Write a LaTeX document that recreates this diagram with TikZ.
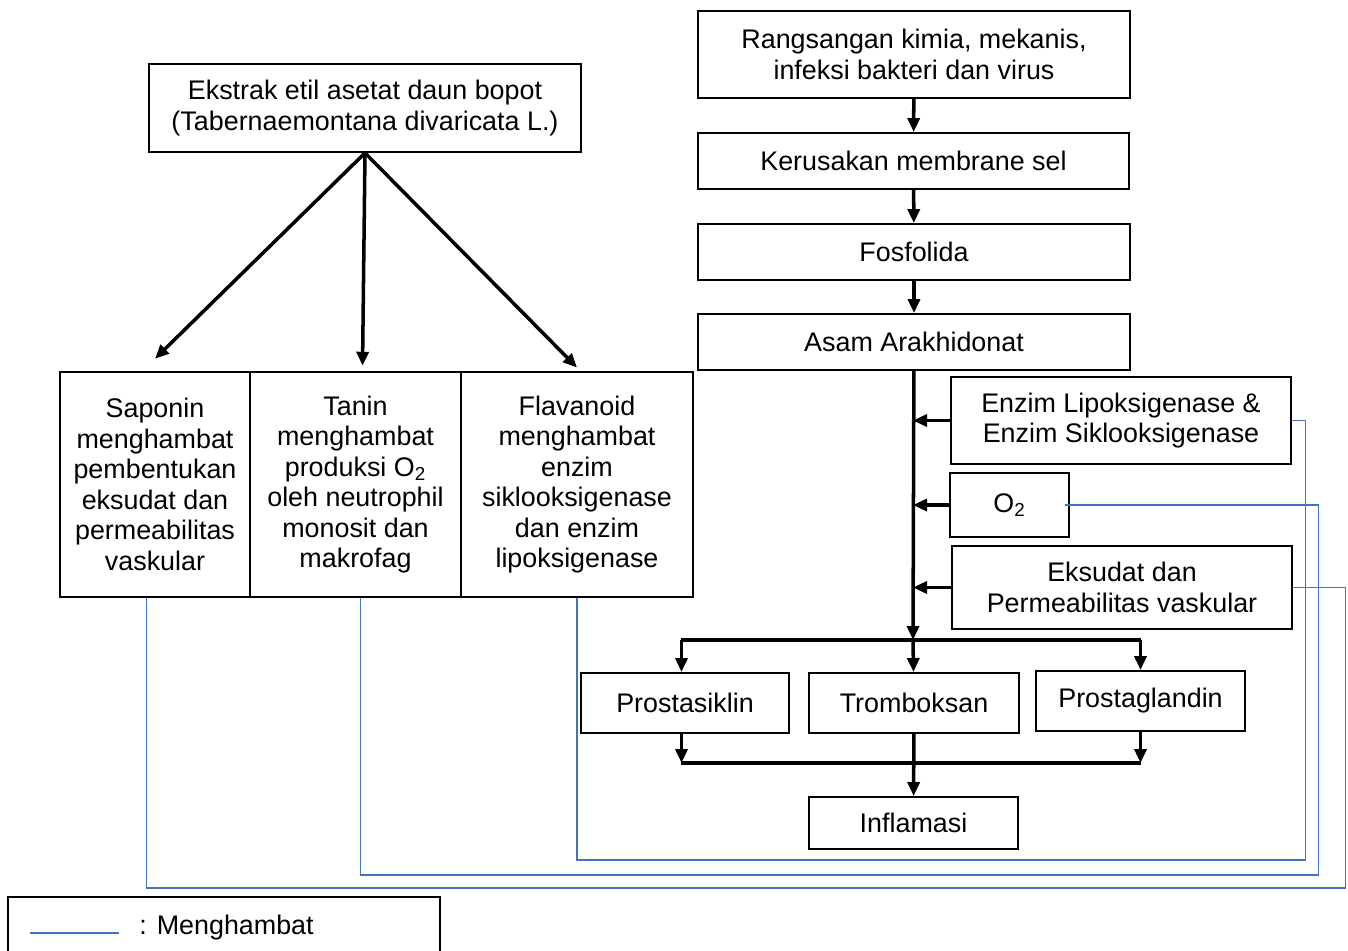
\documentclass[tikz,border=0pt]{standalone}
\usepackage{fontspec}
\setmainfont{Liberation Sans}
\usetikzlibrary{arrows.meta}

\definecolor{hambat}{RGB}{68,114,196}

\tikzstyle{box} = [rectangle, draw=black, line width=1.1pt, align=center, inner sep=0pt, font=\fontsize{15.3}{17.4}\selectfont]
\tikzstyle{arrow} = [line width=2pt,->,>={Triangle[length=2.8mm,width=2.4mm]}]
\tikzstyle{bar} = [line width=2pt]
\tikzstyle{inhib} = [draw=hambat, line width=0.6pt]

\begin{document}
\begin{tikzpicture}[x=0.02cm, y=-0.02cm]
\useasboundingbox (0,0) rectangle (1348,950);

% ekstrak dan senyawa aktif
\node (ekstrak) [box, minimum width=8.64cm, minimum height=1.76cm] at (365,108) {Ekstrak etil asetat daun bopot\\(Tabernaemontana divaricata L.)};
\node (saponin) [box, minimum width=3.8cm, minimum height=4.5cm] at (155,484.5) {Saponin\\menghambat\\pembentukan\\eksudat dan\\permeabilitas\\vaskular};
\node (tanin) [box, minimum width=4.22cm, minimum height=4.5cm] at (355.5,484.5) {Tanin\\menghambat\\produksi O\textsubscript{2}\\oleh neutrophil\\monosit dan\\makrofag};
\node (flav) [box, minimum width=4.64cm, minimum height=4.5cm] at (577,484.5) {Flavanoid\\menghambat\\enzim\\siklooksigenase\\dan enzim\\lipoksigenase};

% jalur inflamasi
\node (rang) [box, minimum width=8.64cm, minimum height=1.74cm] at (914,54.5) {Rangsangan kimia, mekanis,\\infeksi bakteri dan virus};
\node (kerus) [box, minimum width=8.62cm, minimum height=1.12cm] at (913.5,161) {Kerusakan membrane sel};
\node (fosfo) [box, minimum width=8.64cm, minimum height=1.12cm] at (914,252) {Fosfolida};
\node (asam) [box, minimum width=8.64cm, minimum height=1.12cm] at (914,342) {Asam Arakhidonat};
\node (enzim) [box, minimum width=6.8cm, minimum height=1.74cm] at (1121,420.5) {Enzim Lipoksigenase \&\\Enzim Siklooksigenase};
\node (oksigen) [box, minimum width=2.38cm, minimum height=1.28cm] at (1009.5,505) {O\textsubscript{2}};
\node (eksudat) [box, minimum width=6.8cm, minimum height=1.66cm] at (1122,587.5) {Eksudat dan\\Permeabilitas vaskular};
\node (prosta) [box, minimum width=4.16cm, minimum height=1.2cm] at (685,703) {Prostasiklin};
\node (trom) [box, minimum width=4.2cm, minimum height=1.2cm] at (914,703) {Tromboksan};
\node (prostag) [box, minimum width=4.18cm, minimum height=1.2cm] at (1140.5,701) {Prostaglandin};
\node (inflam) [box, minimum width=4.18cm, minimum height=1.04cm] at (913.5,823) {Inflamasi};

\coordinate (split) at (913,640);
\coordinate (join) at (913,763);

\draw [arrow] (ekstrak.south) -- ([yshift=7pt]saponin.north);
\draw [arrow] (ekstrak.south) -- ([xshift=4pt,yshift=3pt]tanin.north);
\draw [arrow] (ekstrak.south) -- ([yshift=2pt]flav.north);

\draw [arrow] (rang) -- (kerus);
\draw [arrow] (kerus) -- (fosfo);
\draw [arrow] (fosfo) -- (asam);
\draw [arrow] (asam) -- (split);
\draw [arrow] (enzim.west) -- (enzim.west -| split);
\draw [arrow] (oksigen.west) -- (oksigen.west -| split);
\draw [arrow] (eksudat.west) -- (eksudat.west -| split);

\draw [bar] ([xshift=-2pt]split -| prosta) -- (split -| prostag);
\draw [arrow] ([xshift=-2pt]split -| prosta) -- ([xshift=-2pt]prosta.north);
\draw [arrow] (split) -- (trom);
\draw [arrow] (split -| prostag) -- (prostag);

\draw [arrow] ([xshift=-2pt]prosta.south) -- ([xshift=-2pt]join -| prosta);
\draw [arrow] (prostag.south) -- (join -| prostag);
\draw [bar] ([xshift=-2pt]join -| prosta) -- (join -| prostag);
\draw [arrow] (trom) -- (inflam);

% garis menghambat
\draw [inhib] (enzim.east) -- ++(14,0) |- (860,860) -| (flav.south);
\draw [inhib] ([xshift=-3pt]oksigen.east) -- ++(254,0) |- (870,875) -| ([xshift=3pt]tanin.south);
\draw [inhib] (eksudat.east) -- ++(53,0) |- (870,888) -| ([xshift=-5pt]saponin.south);

% keterangan
\node (legend) [box, minimum width=8.64cm, minimum height=1.6cm] at (224,937) {};
\coordinate (legA) at (30,933);
\coordinate (legB) at (119,933);
\draw [inhib] (legA) -- (legB);
\node (legtext) [anchor=west, font=\fontsize{15.3}{17.4}\selectfont, inner sep=0pt] at (139,928) {: Menghambat};

\end{tikzpicture}
\end{document}
